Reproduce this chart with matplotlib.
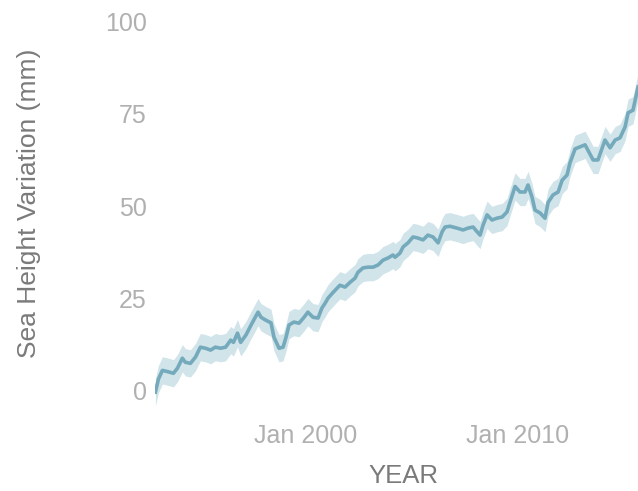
import matplotlib.pyplot as plt

# Sea height variation (decimal year, mm)
years = [1992.90, 1993.04, 1993.23, 1993.51, 1993.75, 1993.94, 1994.17, 1994.31,
         1994.55, 1994.79, 1995.02, 1995.26, 1995.50, 1995.73, 1995.97, 1996.21,
         1996.45, 1996.58, 1996.77, 1996.92, 1997.17, 1997.41, 1997.74, 1997.88,
         1998.11, 1998.35, 1998.49, 1998.73, 1998.92, 1999.06, 1999.20, 1999.43,
         1999.67, 1999.91, 2000.09, 2000.33, 2000.57, 2000.75, 2000.90, 2001.04,
         2001.27, 2001.60, 2001.84, 2002.08, 2002.31, 2002.45, 2002.69, 2002.92,
         2003.16, 2003.40, 2003.63, 2003.87, 2004.10, 2004.20, 2004.43, 2004.58,
         2004.81, 2005.05, 2005.28, 2005.52, 2005.75, 2005.99, 2006.23, 2006.42,
         2006.56, 2006.79, 2007.12, 2007.41, 2007.64, 2007.88, 2008.07, 2008.21,
         2008.35, 2008.54, 2008.77, 2009.01, 2009.25, 2009.48, 2009.62, 2009.86,
         2010.09, 2010.33, 2010.47, 2010.66, 2010.80, 2011.04, 2011.27, 2011.42,
         2011.65, 2011.89, 2012.08, 2012.31, 2012.45, 2012.69, 2013.16, 2013.54,
         2013.77, 2014.10, 2014.34, 2014.58, 2014.81, 2015.05, 2015.19, 2015.42,
         2015.66]
sea_height = [-0.5, 3.0, 5.4, 5.0, 4.6, 6.0, 8.7, 7.6,
              7.3, 9.0, 11.7, 11.4, 10.9, 11.7, 11.4, 11.7,
              13.6, 13.0, 15.5, 13.0, 15.0, 17.7, 21.2, 19.8,
              19.0, 18.3, 14.4, 11.4, 11.7, 14.4, 17.7, 18.5,
              18.2, 19.8, 21.2, 19.8, 19.6, 22.3, 23.6, 25.0,
              26.5, 28.5, 28.0, 29.3, 30.4, 32.0, 33.2, 33.4,
              33.4, 34.0, 35.3, 35.9, 36.7, 36.1, 37.2, 38.9,
              40.0, 41.6, 41.3, 40.8, 42.1, 41.6, 40.0, 43.0,
              44.3, 44.5, 44.0, 43.5, 44.0, 44.3, 43.0, 42.1,
              44.8, 47.6, 46.2, 46.7, 47.0, 48.4, 51.0, 55.3,
              53.8, 53.8, 55.7, 52.4, 48.9, 48.1, 46.7, 51.0,
              53.0, 53.8, 57.0, 58.4, 61.7, 65.5, 66.6, 62.5,
              62.5, 67.9, 65.8, 67.9, 68.5, 71.5, 75.3, 76.0,
              82.3]
band_mm = 3.7  # half width of the shaded uncertainty band

x_ticks = [2000, 2010]
x_tick_labels = ["Jan 2000", "Jan 2010"]
y_ticks = [0, 25, 50, 75, 100]

LINE_COLOR = "#74aabb"
BAND_COLOR = "#d0e4ea"
TICK_COLOR = "#b0b0b0"
LABEL_COLOR = "#7a7a7a"

plt.rcParams['font.family'] = ['Liberation Sans', 'DejaVu Sans']

fig = plt.figure(figsize=(6.38, 4.91), dpi=100)
# axes run past the right edge, like the clipped original
ax = fig.add_axes([155 / 638, 1 - 405 / 491, 496 / 638, 398 / 491])

lower = [v - band_mm for v in sea_height]
upper = [v + band_mm for v in sea_height]
ax.fill_between(years, lower, upper, color=BAND_COLOR, lw=0)
ax.plot(years, sea_height, color=LINE_COLOR, lw=2.6, solid_joinstyle='round')

ax.set_xlim(1992.88, 2016.27)
ax.set_ylim(-4, 104)

ax.set_xticks(x_ticks, x_tick_labels)
ax.set_yticks(y_ticks)
ax.tick_params(axis='both', length=0, colors=TICK_COLOR, labelsize=18)
ax.tick_params(axis='x', pad=14)
ax.tick_params(axis='y', pad=6)
for s in ax.spines.values():
    s.set_visible(False)

fig.text(403 / 638, 1 - 476 / 491, "YEAR", ha='center', va='center',
         fontsize=18.5, color=LABEL_COLOR)
fig.text(29 / 638, 1 - 203 / 491, "Sea Height Variation (mm)", ha='center',
         va='center', rotation=90, fontsize=19, color=LABEL_COLOR)

fig.savefig("out.png", dpi=100)
